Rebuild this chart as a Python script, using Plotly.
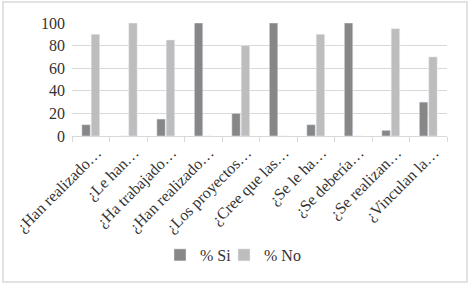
import plotly.graph_objects as go

categories = ["¿Han realizado…", "¿Le han…", "¿Ha trabajado…", "¿Han realizado…",
              "¿Los proyectos…", "¿Cree que las…", "¿Se le ha…", "¿Se debería…",
              "¿Se realizan…", "¿Vinculan la…"]
si_values = [10, 0, 15, 100, 20, 100, 10, 100, 5, 30]
no_values = [90, 100, 85, 0, 80, 0, 90, 0, 95, 70]
y_ticks = [0, 20, 40, 60, 80, 100]

x = list(range(len(categories)))
font = "Liberation Serif, Times New Roman, serif"

fig = go.Figure()
fig.add_trace(go.Bar(x=x, y=si_values, name="% Si", marker_color="#878787", legend="legend"))
fig.add_trace(go.Bar(x=x, y=no_values, name="% No", marker_color="#bdbdbd", legend="legend2"))

L, R, T, B = 72, 25, 23, 149
W, H = 472, 285
pw, ph = W - L - R, H - T - B

def px_to_paper_x(px):
    return (px - L) / pw

def px_to_paper_y(py):
    return (H - B - py) / ph

legend_common = dict(orientation="h", xanchor="left", yanchor="middle",
                     y=px_to_paper_y(255), bgcolor="rgba(0,0,0,0)",
                     font=dict(size=16, color="#333333"), itemwidth=30)

fig.update_layout(
    width=W, height=H,
    margin=dict(l=L, r=R, t=T, b=B, autoexpand=False),
    plot_bgcolor="white", paper_bgcolor="white",
    barmode="group", bargap=0.5, bargroupgap=0.1,
    font=dict(family=font, size=16, color="#333333"),
    showlegend=True,
    legend=dict(x=px_to_paper_x(160), **legend_common),
    legend2=dict(x=px_to_paper_x(224), **legend_common),
    xaxis=dict(
        tickmode="array", tickvals=x, ticktext=categories,
        tickangle=-45, range=[-0.5, len(categories) - 0.5],
        showline=True, linecolor="#d9d9d9", linewidth=1,
        ticks="", showgrid=False, ticklabelshift=6,
        tickfont=dict(size=16, color="#333333"),
        minor=dict(tickmode="linear", tick0=-0.5, dtick=1, ticks="outside",
                   ticklen=5, tickcolor="#d9d9d9", showgrid=False),
    ),
    yaxis=dict(
        range=[0, 100], tickvals=y_ticks, showgrid=True, gridcolor="#d9d9d9",
        gridwidth=1, zeroline=False, showline=False, ticks="",
        tickfont=dict(size=16, color="#333333"), ticklabelstandoff=6,
    ),
    shapes=[dict(type="rect", xref="paper", yref="paper",
                 x0=px_to_paper_x(3), x1=px_to_paper_x(467),
                 y0=px_to_paper_y(282), y1=px_to_paper_y(2),
                 line=dict(color="#d9d9d9", width=1.5), layer="below")],
)

fig.write_html("out.html", config={"displayModeBar": False},
               post_script="document.body.style.margin='0';")
